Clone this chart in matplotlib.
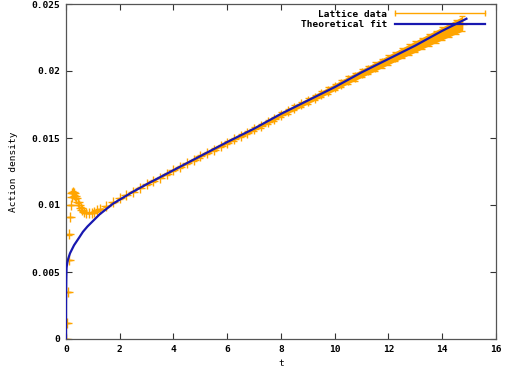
import numpy as np
import matplotlib
matplotlib.use("Agg")
import matplotlib.pyplot as plt
from matplotlib.lines import Line2D

# Lattice data (t, action density, error)
lat_t = [0.0, 0.04, 0.07, 0.10, 0.12, 0.15, 0.18, 0.21, 0.24, 0.27,
         0.30, 0.34, 0.38, 0.43, 0.48, 0.54, 0.60, 0.68, 0.76, 0.85,
         0.95, 1.05, 1.15, 1.25,
         1.5, 1.75, 2.0, 2.25, 2.5, 2.75, 3.0, 3.25, 3.5, 3.75,
         4.0, 4.25, 4.5, 4.75, 5.0, 5.25, 5.5, 5.75, 6.0, 6.25,
         6.5, 6.75, 7.0, 7.25, 7.5, 7.75, 8.0, 8.25, 8.5, 8.75,
         9.0, 9.25, 9.5, 9.75, 10.0, 10.25, 10.5, 10.75, 11.0, 11.25,
         11.5, 11.75, 12.0, 12.25, 12.5, 12.75, 13.0, 13.25, 13.5, 13.75,
         14.0, 14.25, 14.5, 14.75]
lat_val = [0.0, 0.0012, 0.0035, 0.0059, 0.0078, 0.0091, 0.0100, 0.0106, 0.0109, 0.0110,
           0.0109, 0.0107, 0.0105, 0.0102, 0.0100, 0.0098, 0.0096, 0.0095, 0.0094, 0.0094,
           0.0094, 0.0095, 0.0096, 0.0097,
           0.0099, 0.0102, 0.0105, 0.01075, 0.0110, 0.01128, 0.01155, 0.0118, 0.01205, 0.0123,
           0.01258, 0.01284, 0.0131, 0.01336, 0.01362, 0.01388, 0.01414, 0.0144, 0.01466, 0.01491,
           0.01516, 0.01541, 0.01566, 0.01592, 0.01618, 0.01644, 0.01675, 0.017, 0.01725, 0.0175,
           0.01776, 0.01802, 0.01828, 0.01854, 0.0188, 0.01906, 0.01932, 0.01957, 0.01982, 0.02007,
           0.02032, 0.02057, 0.02083, 0.02108, 0.02133, 0.02158, 0.02182, 0.02207, 0.02232, 0.02256,
           0.0228, 0.02304, 0.02328, 0.02352]
lat_err = [0.0, 0.00002, 0.00002, 0.00002, 0.00002, 0.00002, 0.00002, 0.00002, 0.00002, 0.00002,
           0.00002, 0.00002, 0.00002, 0.00002, 0.00002, 0.00002, 0.00002, 0.00002, 0.00002, 0.00002,
           0.00002, 0.00002, 0.00002, 0.00002,
           0.00003, 0.00003, 0.00003, 0.00003, 0.00004, 0.00004, 0.00004, 0.00005, 0.00005, 0.00006,
           0.00006, 0.00007, 0.00007, 0.00008, 0.00008, 0.00009, 0.00009, 0.0001, 0.0001, 0.00011,
           0.00012, 0.00013, 0.00013, 0.00014, 0.00015, 0.00016, 0.00017, 0.00018, 0.00019, 0.0002,
           0.00021, 0.00022, 0.00023, 0.00024, 0.00025, 0.00026, 0.00027, 0.00029, 0.0003, 0.00031,
           0.00033, 0.00034, 0.00036, 0.00037, 0.00039, 0.0004, 0.00042, 0.00043, 0.00045, 0.00046,
           0.00048, 0.0005, 0.00052, 0.00055]

# Theoretical fit curve
fit_t = [0.0, 0.002, 0.005, 0.01, 0.02, 0.04, 0.07, 0.1, 0.15, 0.2, 0.3, 0.4, 0.5,
         0.63, 0.8, 1.0, 1.25, 1.5, 1.75, 2.0, 2.5, 3.0, 4.0, 5.0, 6.0, 7.0, 8.0,
         9.0, 10.0, 11.0, 12.0, 13.0, 14.0, 14.9]
fit_val = [0.0, 0.0026, 0.0036, 0.0044, 0.0053, 0.0056, 0.0059, 0.0061, 0.0064, 0.0066,
           0.0070, 0.0073, 0.0076, 0.0080, 0.0084, 0.0088, 0.0093, 0.0097, 0.0101, 0.0104,
           0.0110, 0.01155, 0.0126, 0.01365, 0.0147, 0.0157, 0.0168, 0.0178, 0.0188, 0.0199,
           0.0209, 0.0219, 0.0230, 0.0239]

ORANGE = "#ffa500"
BLUE = "#1818b0"

plt.rcParams["font.family"] = "DejaVu Sans Mono"
plt.rcParams["font.weight"] = "bold"
plt.rcParams["font.size"] = 6.8

fig = plt.figure(figsize=(5.06, 3.75), dpi=100)
ax = fig.add_axes([66 / 506, 1 - 339 / 375, 430 / 506, 335 / 375])

t = np.array(lat_t)
v = np.array(lat_val)
e = np.array(lat_err)

ax.fill_between(t, v - e, v + e, where=t >= 1.0, color=ORANGE, lw=0, zorder=1)
ax.errorbar(t, v, yerr=e, fmt="+", color=ORANGE, ms=7.5, mew=1,
            elinewidth=1, capsize=2, zorder=2)
ax.plot(fit_t, fit_val, color=BLUE, lw=1.6, zorder=3)

ax.set_xlim(0, 16)
ax.set_ylim(0, 0.025)
ax.set_xticks(range(0, 17, 2))
ax.set_yticks([0, 0.005, 0.01, 0.015, 0.02, 0.025])
ax.set_yticklabels(["0", "0.005", "0.01", "0.015", "0.02", "0.025"])
ax.tick_params(direction="in", length=4, width=0.8, top=True, right=True,
               pad=4, colors="#333333", labelcolor="black")
for s in ax.spines.values():
    s.set_color("#555555")
    s.set_linewidth(0.9)

ax.set_xlabel("t", labelpad=4)
ax.set_ylabel("Action density", labelpad=10)

h_lat = Line2D([], [], color=ORANGE, lw=1, marker="|", ms=5, mew=1)
h_fit = Line2D([], [], color=BLUE, lw=1.6)
ax.legend([h_lat, h_fit], ["Lattice data", "Theoretical fit"], loc="upper right",
          frameon=False, markerfirst=False, numpoints=2, handlelength=10.2,
          handletextpad=0.5, borderaxespad=0.2, labelspacing=0.15,
          bbox_to_anchor=(0.995, 1.0))

fig.savefig("out.png", dpi=100)
